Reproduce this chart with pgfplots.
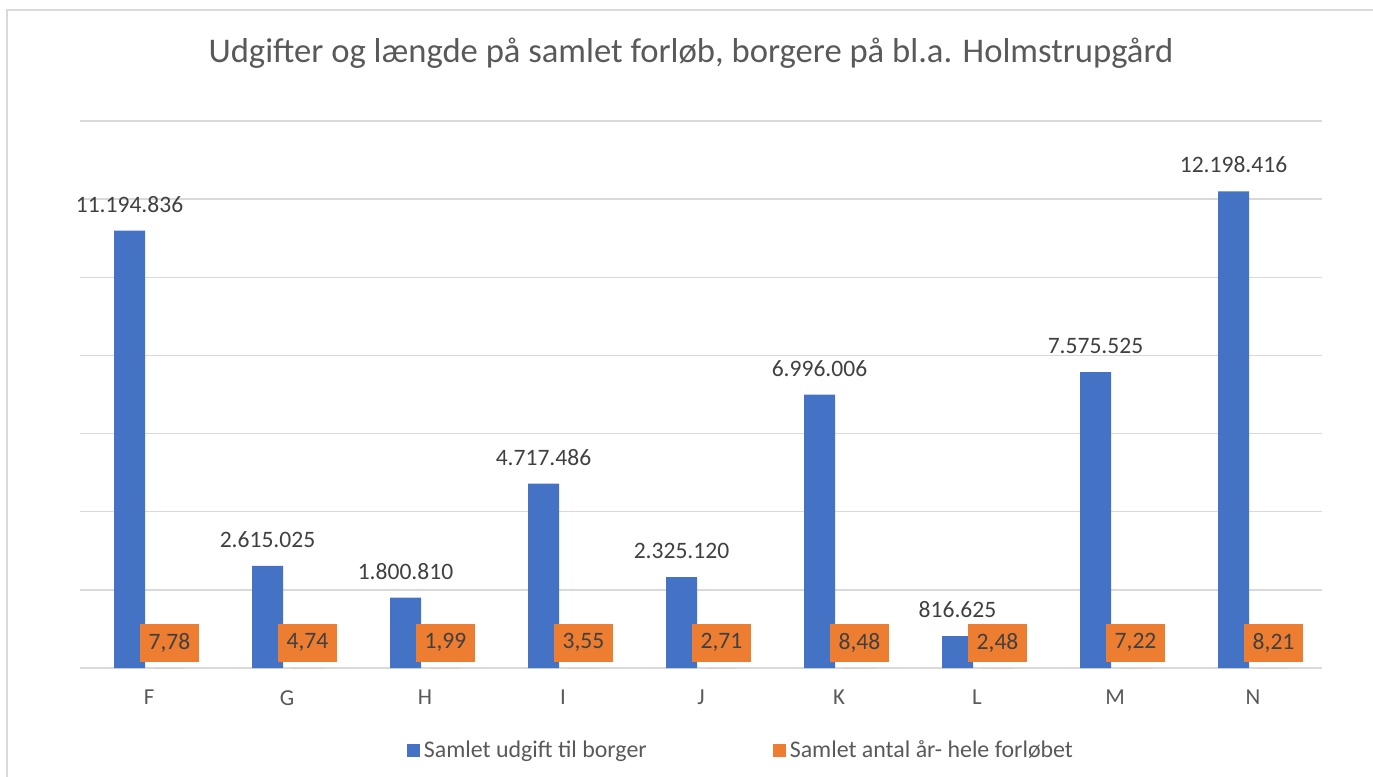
\documentclass[border=0pt]{standalone}
\usepackage{fontspec}
\setmainfont{Carlito}
\usepackage{pgfplots}
\pgfplotsset{compat=1.18}
\definecolor{cblue}{HTML}{4472C4}
\definecolor{corange}{HTML}{ED7D31}
\definecolor{cgrid}{HTML}{D9D9D9}
\definecolor{ctext}{HTML}{595959}
\definecolor{clab}{HTML}{404040}
\begin{document}
\begin{tikzpicture}
\useasboundingbox (0,0) rectangle (274.6mm,155.2mm);
\draw[cgrid, line width=0.6pt] (1.4mm,-1mm) -- (1.4mm,153.2mm) -- (276mm,153.2mm);
\node[text=ctext, font=\fontsize{19.7}{23}\selectfont] at (138.2mm,144.6mm) {Udgifter og længde på samlet forløb, borgere på bl.a. Holmstrupgård};
\begin{axis}[
  at={(16mm,21.6mm)}, anchor=south west,
  scale only axis, width=248.4mm, height=109.4mm,
  xmin=-0.5, xmax=8.5, ymin=0, ymax=14000000,
  scaled y ticks=false,
  ybar, bar width=6.2mm,
  axis x line*=bottom, axis y line*=left,
  x axis line style={-, cgrid, line width=0.75pt},
  y axis line style={draw=none},
  ytick={2000000,4000000,6000000,8000000,10000000,12000000,14000000},
  yticklabels={},
  ymajorgrids, grid style={cgrid, line width=0.75pt},
  major tick length=0pt,
  xtick={0,1,2,3,4,5,6,7,8},
  xticklabels={F,G,H,I,J,K,L,M,N},
  xticklabel style={text=ctext, font=\fontsize{13}{15}\selectfont, yshift=-3.2mm},
  legend columns=2,
  legend style={at={(0.533,-0.15)}, anchor=center, draw=none, fill=none,
    font=\fontsize{13.6}{16}\selectfont, text=ctext,
    /tikz/every even column/.append style={column sep=24.6mm}},
]
\addplot[fill=cblue, draw=none, bar shift=-3.9mm,
  legend image code/.code={\fill[cblue] (-1mm,-1.3mm) rectangle (1.6mm,1.3mm);},
  nodes near coords, point meta=explicit symbolic,
  every node near coord/.append style={anchor=south, inner sep=0pt, yshift=3.6mm, text=clab, font=\fontsize{13.4}{16}\selectfont}]
  table[meta=lab] {
x y lab
0 11194836 11.194.836
1 2615025 2.615.025
2 1800810 1.800.810
3 4717486 4.717.486
4 2325120 2.325.120
5 6996006 6.996.006
6 816625 816.625
7 7575525 7.575.525
8 12198416 12.198.416
};
\addlegendentry{Samlet udgift til borger}
\addplot[fill=corange, draw=none, bar shift=4.1mm,
  legend image code/.code={\fill[corange] (-1mm,-1.3mm) rectangle (1.6mm,1.3mm);},
  nodes near coords, point meta=explicit symbolic,
  every node near coord/.append style={anchor=south, inner sep=0pt, yshift=1.2mm, fill=corange, minimum width=11.8mm, minimum height=7.6mm, text=clab, font=\fontsize{13.4}{16}\selectfont}]
  table[meta=lab] {
x y lab
0 7.78 {7,78}
1 4.74 {4,74}
2 1.99 {1,99}
3 3.55 {3,55}
4 2.71 {2,71}
5 8.48 {8,48}
6 2.48 {2,48}
7 7.22 {7,22}
8 8.21 {8,21}
};
\addlegendentry{Samlet antal år- hele forløbet}
\end{axis}
\end{tikzpicture}
\end{document}
